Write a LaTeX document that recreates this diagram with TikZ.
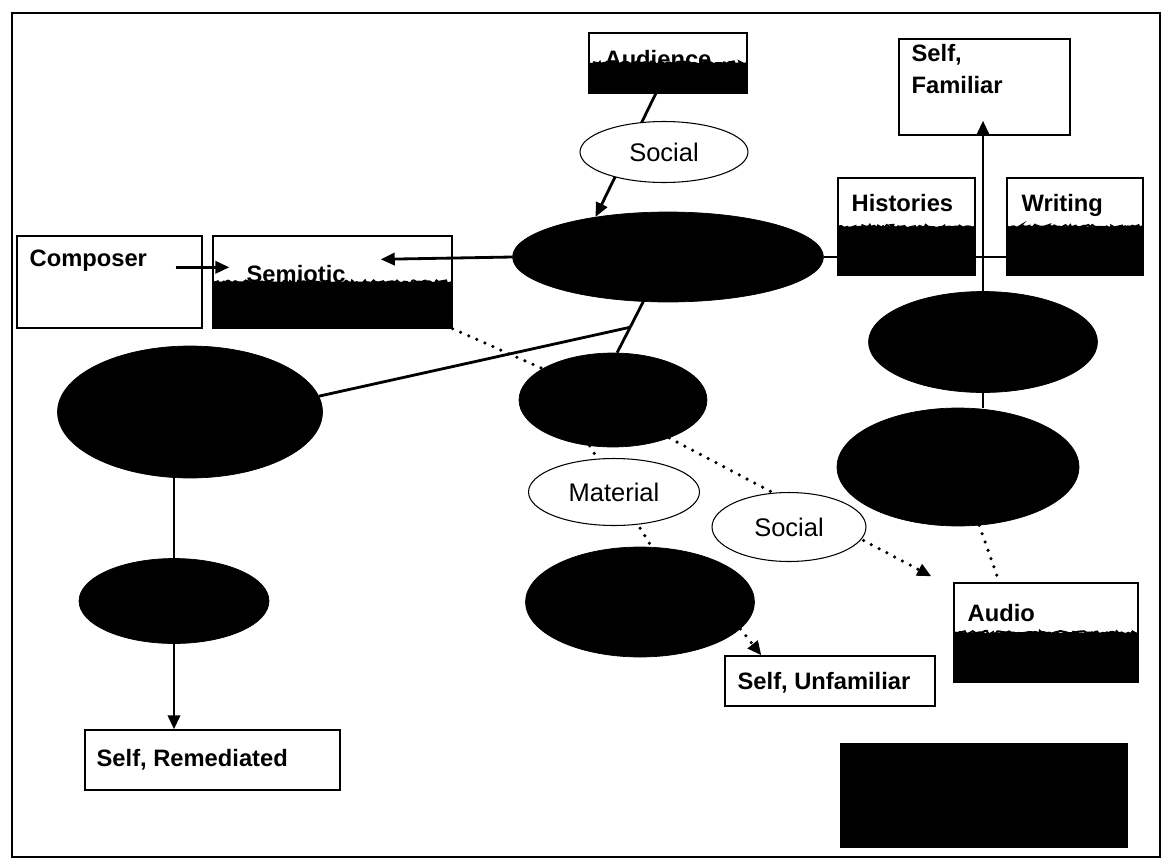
\documentclass[tikz,border=0pt]{standalone}
\usepackage{fontspec}
\setmainfont{Liberation Sans}
\usetikzlibrary{shapes.geometric,arrows.meta,calc,decorations.pathmorphing}

\begin{document}
\begin{tikzpicture}[x=0.02cm,y=-0.02cm,
  blob/.style={ellipse,fill=black,draw=black,inner sep=0pt},
  tagell/.style={ellipse,fill=white,draw=black,line width=0.6pt,inner sep=0pt,
    font=\fontsize{14.5}{17}\selectfont},
  plainbox/.style={rectangle,draw=black,fill=white,line width=0.8pt,inner sep=0pt},
  halfbox/.style={plainbox,path picture={
    \fill[black] (path picture bounding box.south west) rectangle (path picture bounding box.east);
    \draw[black,line width=1.2pt,decorate,decoration={random steps,segment length=1.2pt,amplitude=0.9pt}]
      (path picture bounding box.west) -- (path picture bounding box.east);}},
  boxtext/.style={anchor=base west,inner sep=0pt,font=\fontsize{13.5}{18}\selectfont\bfseries},
  conn/.style={line width=1.6pt},
  dotline/.style={line width=2pt,line cap=round,dash pattern=on 0pt off 5pt},
  arrowend/.style={-{Triangle[length=8pt,width=7pt]}}]

\useasboundingbox (0,0) rectangle (1163,859);
\draw[line width=1.5pt] (12,13) rectangle (1160,857);

% boxes
\node[halfbox,minimum width=3.16cm,minimum height=1.2cm] (audience) at (668,63) {};
\node[plainbox,minimum width=3.7cm,minimum height=1.84cm] (composer) at (109.5,282) {};
\node[halfbox,minimum width=4.78cm,minimum height=1.84cm] (semiotic) at (332.5,282) {};
\node[halfbox,minimum width=2.72cm,minimum height=1.94cm] (writing) at (1075,226.5) {};
\node[plainbox,minimum width=3.42cm,minimum height=1.92cm] (selffam) at (984.5,87) {};
\node[halfbox,minimum width=3.68cm,minimum height=1.98cm] (audio) at (1046,632.5) {};
\node[plainbox,minimum width=4.2cm,minimum height=1cm] (selfunf) at (830,681) {};
\node[plainbox,minimum width=5.1cm,minimum height=1.2cm] (selfrem) at (212.5,760) {};
\node[rectangle,fill=black,inner sep=0pt,minimum width=5.76cm,minimum height=2.1cm] (blackbox) at (984,795.5) {};

% black ellipses
\node[blob,minimum width=6.22cm,minimum height=1.8cm] (central) at (668,257) {};
\node[blob,minimum width=3.76cm,minimum height=1.88cm] (mid) at (613,400) {};
\node[blob,minimum width=4.58cm,minimum height=2.2cm] (lowmid) at (640,602) {};
\node[blob,minimum width=4.58cm,minimum height=2.02cm] (upright) at (983,342) {};
\node[blob,minimum width=4.84cm,minimum height=2.36cm] (lowright) at (958,467) {};
\node[blob,minimum width=5.3cm,minimum height=2.64cm] (leftbig) at (190,412) {};
\node[blob,minimum width=3.8cm,minimum height=1.7cm] (leftsmall) at (174,601) {};

\coordinate (semin) at ($(semiotic.north east)+(-72,24)$);
\coordinate (compout) at ($(composer.north east)+(-27,32)$);
\coordinate (semleft) at ($(semiotic.north west)+(17,32)$);
\coordinate (famin) at ($(selffam.south)+(0,-15)$);
\coordinate (junc) at ($(central.-119)!0.5!(mid.85)$);
\coordinate (socend) at ($(audio.north west)+(-22,-6)$);
\coordinate (unfin) at ($(selfunf.north west)+(37,0)$);
\coordinate (audin) at ($(audio.north west)+(46,0)$);

% connectors
\draw[conn,arrowend] ([xshift=-7pt]audience.south) -- (central.151);
\draw[conn,arrowend] (central.west) -- (semin);
\draw[conn,arrowend] (compout) -- (semleft);
\draw[conn] (central.east) -- (central.east -| writing.west);
\draw[conn,arrowend] (upright.north) -- (upright.north |- famin);
\draw[conn] (upright.south) -- (upright.south |- lowright.north);
\draw[conn] (central.-119) -- (mid.85);
\draw[conn] (leftbig.7) -- (junc);
\draw[conn] (leftsmall.north |- leftbig.south) -- (leftsmall.north);
\draw[conn,arrowend] (leftsmall.south) -- (leftsmall.south |- selfrem.north);
\draw[dotline] (semiotic.south east) -- (mid);
\draw[dotline] (mid.-117) -- (lowmid.78);
\draw[dotline,arrowend] (mid.-34) -- (socend);
\draw[dotline,arrowend] (lowmid.-15) -- (unfin);
\draw[dotline] (lowright.-70) -- (audin);

% on top of the lines
\node[tagell,minimum width=3.36cm,minimum height=1.22cm] (socialtop) at (664,152) {Social};
\node[tagell,minimum width=3.42cm,minimum height=1.34cm] (material) at (614,492) {Material};
\node[tagell,minimum width=3.08cm,minimum height=1.38cm] (socialmid) at (789,527) {Social};
\node[halfbox,minimum width=2.74cm,minimum height=1.94cm] (histories) at (906.5,226.5) {};

% box texts
\node[boxtext,anchor=base] (audiencetext) at ($(audience.north)+(-10,35)$) {Audience};
\node[boxtext] (composertext) at ($(composer.north west)+(13,31)$) {Composer};
\node[boxtext] (semiotictext) at ($(semiotic.north west)+(34,47)$) {Semiotic};
\node[boxtext] (historiestext) at ($(histories.north west)+(14,34)$) {Histories};
\node[boxtext] (writingtext) at ($(writing.north west)+(15,34)$) {Writing};
\node[boxtext] (audiotext) at ($(audio.north west)+(14,39)$) {Audio};
\node[boxtext,anchor=north west,align=left] (selffamtext) at ($(selffam.north west)+(13,6)$) {Self,\\Familiar};
\node[boxtext] (selfunftext) at ($(selfunf.north west)+(13,34)$) {Self, Unfamiliar};
\node[boxtext] (selfremtext) at ($(selfrem.north west)+(12,37)$) {Self, Remediated};
\end{tikzpicture}
\end{document}
